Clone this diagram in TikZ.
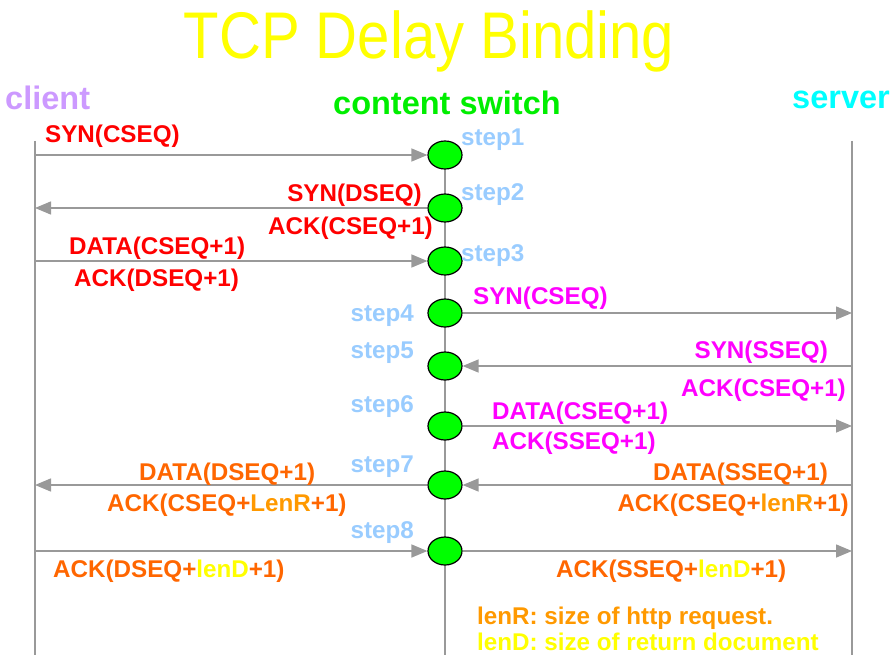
\documentclass[tikz,border=0pt]{standalone}
\usepackage{fontspec}
\setmainfont{Liberation Sans}
\newfontfamily\titlefont[FakeStretch=0.88]{Liberation Sans}
\usetikzlibrary{arrows.meta,shapes.geometric}
\definecolor{lgray}{HTML}{999999}
\definecolor{swgreen}{HTML}{00FF00}
\definecolor{ttlyellow}{HTML}{FFFF00}
\definecolor{clientc}{HTML}{CC99FF}
\definecolor{serverc}{HTML}{00FFFF}
\definecolor{switchc}{HTML}{00EE00}
\definecolor{stepc}{HTML}{99CCFF}
\definecolor{redc}{HTML}{FF0000}
\definecolor{magc}{HTML}{FF00FF}
\definecolor{orc}{HTML}{FF6600}
\definecolor{lenrc}{HTML}{FF9900}
\definecolor{lendc}{HTML}{FFFF00}
\tikzset{
  life/.style={draw=lgray, line width=1.5pt},
  msg/.style={draw=lgray, line width=1.5pt, -{Triangle[length=16pt,width=13pt]}},
  swnode/.style={ellipse, draw=black, line width=1.2pt, fill=swgreen, minimum width=34pt, minimum height=28pt, inner sep=0pt},
  lab/.style={inner sep=0pt, font=\bfseries\fontsize{24.2}{28}\selectfont},
  head/.style={inner sep=0pt, font=\bfseries\fontsize{32.5}{36}\selectfont},
  steplab/.style={lab, text=stepc},
}
\begin{document}
\begin{tikzpicture}[x=1pt,y=-1pt]
\useasboundingbox (0,0) rectangle (893,655);
% title and headers
\node[inner sep=0pt, anchor=base, text=ttlyellow, font=\titlefont\fontsize{66}{70}\selectfont] (title) at (429,59) {TCP Delay Binding};
\node[head, anchor=base west, text=clientc] (client) at (5,110) {client};
\node[head, anchor=base west, text=switchc] (switch) at (333,115) {content switch};
\node[head, anchor=base east, text=serverc] (server) at (890,109) {server};
% lifelines
\coordinate (clTop) at (35,141);
\coordinate (clBot) at (35,655);
\coordinate (svTop) at (852,141);
\coordinate (svBot) at (852,655);
\coordinate (swTop) at (445,155);
\coordinate (swBot) at (445,655);
\draw[life] (clTop) -- (clBot);
\draw[life] (svTop) -- (svBot);
\draw[life] (swTop) -- (swBot);
% switch circles
\foreach \i/\y in {1/155,2/208,3/261,4/313,5/366,6/426,7/485,8/551}{
  \node[swnode] (c\i) at (445,\y) {};
  \coordinate (k\i) at (35,\y);
  \coordinate (s\i) at (852,\y);
}
% messages
\draw[msg] (k1) -- (c1);
\draw[msg] (c2) -- (k2);
\draw[msg] (k3) -- (c3);
\draw[msg] (c4) -- (s4);
\draw[msg] (s5) -- (c5);
\draw[msg] (c6) -- (s6);
\draw[msg] (c7) -- (k7);
\draw[msg] (s7) -- (c7);
\draw[msg] (k8) -- (c8);
\draw[msg] (c8) -- (s8);
% step labels
\node[steplab, anchor=base west] (st1) at (461,146) {step1};
\node[steplab, anchor=base west] (st2) at (461,200) {step2};
\node[steplab, anchor=base west] (st3) at (461,261) {step3};
\node[steplab, anchor=base east] (st4) at (414,321) {step4};
\node[steplab, anchor=base east] (st5) at (414,358) {step5};
\node[steplab, anchor=base east] (st6) at (414,412) {step6};
\node[steplab, anchor=base east] (st7) at (414,472) {step7};
\node[steplab, anchor=base east] (st8) at (414,538) {step8};
% red labels
\node[lab, text=redc, anchor=base west] (m1) at (45,143) {SYN(CSEQ)};
\node[lab, text=redc, anchor=base east] (m2a) at (422,201) {SYN(DSEQ)};
\node[lab, text=redc, anchor=base east] (m2b) at (433,234) {ACK(CSEQ+1)};
\node[lab, text=redc, anchor=base west] (m3a) at (69,254) {DATA(CSEQ+1)};
\node[lab, text=redc, anchor=base west] (m3b) at (74,286) {ACK(DSEQ+1)};
% magenta labels
\node[lab, text=magc, anchor=base west] (m4) at (473,304) {SYN(CSEQ)};
\node[lab, text=magc, anchor=base east] (m5a) at (828,358) {SYN(SSEQ)};
\node[lab, text=magc, anchor=base east] (m5b) at (846,396) {ACK(CSEQ+1)};
\node[lab, text=magc, anchor=base west] (m6a) at (492,419) {DATA(CSEQ+1)};
\node[lab, text=magc, anchor=base west] (m6b) at (492,449) {ACK(SSEQ+1)};
% orange labels
\node[lab, text=orc, anchor=base west] (m7a) at (139,480) {DATA(DSEQ+1)};
\node[lab, text=orc, anchor=base west] (m7b) at (107,511) {ACK(CSEQ+\textcolor{lenrc}{LenR}+1)};
\node[lab, text=orc, anchor=base east] (m7c) at (828,480) {DATA(SSEQ+1)};
\node[lab, text=orc, anchor=base east] (m7d) at (849,511) {ACK(CSEQ+\textcolor{lenrc}{lenR}+1)};
\node[lab, text=orc, anchor=base west] (m8a) at (53,577) {ACK(DSEQ+\textcolor{lendc}{lenD}+1)};
\node[lab, text=orc, anchor=base west] (m8b) at (556,577) {ACK(SSEQ+\textcolor{lendc}{lenD}+1)};
% notes
\node[lab, text=lenrc, anchor=base west] (n1) at (477,624) {lenR: size of http request.};
\node[lab, text=lendc, anchor=base west] (n2) at (477,650) {lenD: size of return document};
\end{tikzpicture}
\end{document}
